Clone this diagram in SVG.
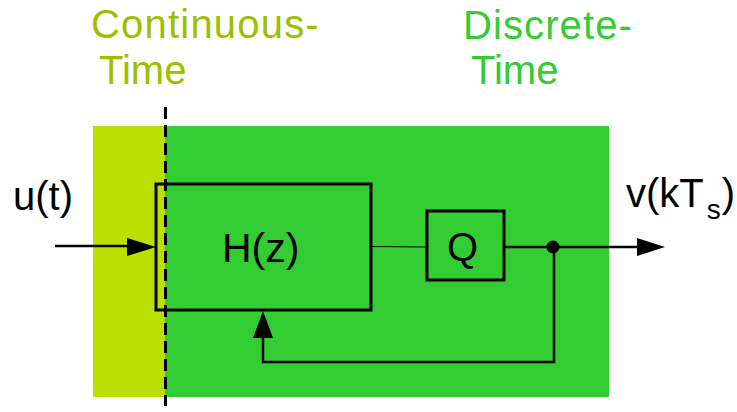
<svg xmlns="http://www.w3.org/2000/svg" width="737" height="412" viewBox="0 0 737 412">
<style>
  .lbl { font-family: "Liberation Sans", Arial, sans-serif; font-size: 40px; fill: #000; }
  .box { fill: none; stroke: #000; stroke-width: 3; }
  .wire { fill: none; stroke: #000; stroke-width: 2.5; }
  .head { fill: #000; stroke: none; }
</style>
<rect width="737" height="412" fill="#fff"/>
<g id="continuous-region">
  <rect x="93" y="126" width="73" height="271" fill="#BADF00"/>
  <text class="lbl" x="91" y="38" style="fill:#9CBF00;letter-spacing:1.2px">Continuous-</text>
  <text class="lbl" x="99" y="84" style="fill:#9CBF00">Time</text>
</g>
<g id="discrete-region">
  <rect x="165" y="126" width="444" height="271" fill="#33CC33"/>
  <text class="lbl" x="463" y="39" style="fill:#33CC33;letter-spacing:1.1px">Discrete-</text>
  <text class="lbl" x="471" y="84" style="fill:#33CC33">Time</text>
</g>
<g id="input-label">
  <text class="lbl" x="13" y="210">u(t)</text>
</g>
<g id="output-label">
  <text class="lbl" x="626" y="207">v(kT<tspan font-size="28" dx="3" dy="12">s</tspan><tspan dx="1" dy="-12">)</tspan></text>
</g>
<g id="H">
  <rect class="box" x="156" y="184" width="215" height="126"/>
  <text class="lbl" x="222" y="262" style="font-size:41px">H(z)</text>
</g>
<g id="Q">
  <rect class="box" x="427" y="211" width="77" height="69"/>
  <text class="lbl" x="447" y="261">Q</text>
</g>
<g id="connectors">
  <line class="wire" x1="55" y1="246" x2="130" y2="246"/>
  <polygon class="head" points="127,238 156,247 127,256"/>
  <line x1="371" y1="246.5" x2="427" y2="247" stroke="#000" stroke-width="1.2"/>
  <line class="wire" x1="504" y1="247" x2="640" y2="247"/>
  <polygon class="head" points="637,238 665,247 637,256"/>
  <circle cx="553" cy="247" r="6.5" fill="#000"/>
  <polyline class="wire" points="554,247 554,362 263,362 263,335"/>
  <polygon class="head" points="253,338 263,311 273,338"/>
</g>
<g id="boundary">
  <line x1="165.5" y1="107" x2="165.5" y2="406" stroke="#000" stroke-width="3" stroke-dasharray="12 6"/>
</g>
</svg>
